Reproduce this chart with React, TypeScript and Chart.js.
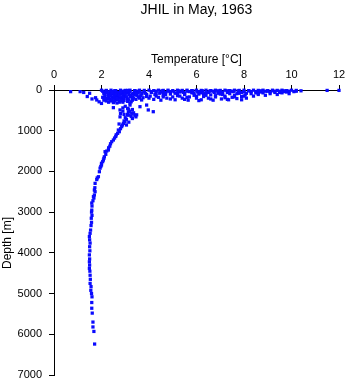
import { useEffect, useRef } from "react";
import { Chart, registerables } from "chart.js";

Chart.register(...registerables);

const titleText = "JHIL in May, 1963";
const xAxisLabel = "Temperature [°C]";
const yAxisLabel = "Depth [m]";
const xTickValues = [0, 2, 4, 6, 8, 10, 12];
const yTickValues = [0, 1000, 2000, 3000, 4000, 5000, 6000, 7000];

// [temperature °C, depth m]
const surfaceRow: [number, number][] = [
  [0.7, 40], [1.1, 40], [1.25, 60], [1.5, 80], [2.0, 5], [2.2, 10], [2.4, 5], [2.6, 15], [2.8, 5],
  [3.0, 10], [3.2, 5], [3.4, 15], [3.6, 5], [3.8, 10], [4.0, 5], [4.2, 15], [4.4, 5], [4.6, 10],
  [4.8, 5], [5.0, 15], [5.2, 5], [5.4, 10], [5.6, 5], [5.8, 15], [6.0, 5], [6.2, 10], [6.4, 5],
  [6.6, 15], [6.8, 5], [7.0, 10], [7.2, 5], [7.4, 15], [7.6, 5], [7.8, 10], [8.0, 5], [8.2, 15],
  [8.4, 5], [8.6, 10], [8.8, 5], [9.0, 15], [9.2, 5], [9.4, 10], [9.6, 5], [9.8, 15], [10.0, 5],
  [10.2, 10], [10.4, 20], [11.5, 10], [12.0, 10],
];

const upperBand: [number, number][] = [
  [2.1, 50], [2.3, 80], [2.5, 40], [2.7, 110], [2.9, 70], [3.1, 50], [3.3, 100], [3.5, 30],
  [3.7, 70], [3.9, 110], [4.1, 40], [4.3, 90], [4.5, 50], [4.7, 110], [4.9, 40], [5.1, 80],
  [5.3, 50], [5.5, 90], [5.7, 40], [5.9, 80], [6.1, 40], [6.3, 90], [6.5, 60], [6.7, 30],
  [6.9, 80], [7.1, 110], [7.3, 60], [7.5, 30], [7.7, 90], [7.9, 60], [8.1, 80], [8.3, 40],
  [8.5, 70], [8.7, 50], [8.9, 30], [9.1, 50], [9.3, 30], [9.5, 60], [9.7, 40], [9.9, 30],
  [10.2, 30], [4.6, 170], [5.2, 140], [5.6, 180], [6.0, 150], [6.4, 130], [6.8, 140], [7.2, 190],
  [7.6, 170], [8.0, 150], [4.9, 220], [5.5, 230], [6.1, 260], [6.6, 220], [7.3, 230], [7.9, 240],
  [4.3, 150], [4.0, 200], [4.6, 60], [5.4, 30], [6.2, 70], [7.0, 40], [7.8, 50], [8.6, 80],
];

const coldMixed: [number, number][] = [
  [1.4, 160], [1.6, 220], [1.75, 190], [1.8, 245], [1.9, 290], [2.0, 330], [2.05, 30], [2.1, 90],
  [2.15, 160], [2.2, 60], [2.25, 210], [2.3, 120], [2.35, 40], [2.4, 270], [2.45, 180], [2.5, 90],
  [2.55, 20], [2.6, 240], [2.65, 140], [2.7, 60], [2.75, 300], [2.8, 200], [2.85, 100], [2.9, 30],
  [2.95, 260], [3.0, 150], [3.05, 70], [3.1, 220], [3.15, 110], [3.2, 40], [3.25, 290], [3.3, 180],
  [3.35, 80], [3.4, 20], [3.45, 230], [3.5, 130], [3.55, 60], [3.6, 200], [3.7, 100], [3.8, 40],
  [3.9, 160], [2.1, 250], [2.3, 300], [2.2, 20], [2.4, 110], [2.6, 50], [2.7, 170], [2.8, 270],
  [2.9, 120], [3.0, 20], [2.5, 200], [2.35, 230], [2.65, 320], [2.45, 60], [2.55, 150], [2.75, 80],
  [2.85, 190], [2.95, 50], [3.1, 10], [3.2, 160], [3.3, 250], [2.15, 120], [2.25, 70], [2.6, 100],
  [2.8, 40], [3.0, 90], [3.4, 120], [3.6, 30], [2.4, 150], [2.7, 230], [2.9, 180], [3.1, 280],
  [2.05, 180], [2.2, 270], [2.3, 180], [2.45, 250], [2.5, 310], [2.6, 190], [2.75, 130], [2.85, 250],
  [2.95, 200], [3.05, 170], [3.15, 240], [3.25, 130], [3.35, 200], [3.45, 90], [3.55, 170], [3.65, 140],
  [3.75, 190], [3.85, 80], [2.55, 270], [2.65, 210], [2.35, 140], [2.12, 210], [2.9, 300], [3.2, 320],
];

const warmMixed: [number, number][] = [
  [4.05, 150], [4.1, 60], [4.2, 230], [4.25, 110], [4.3, 30], [4.4, 180], [4.45, 80], [4.5, 250],
  [4.55, 20], [4.6, 130], [4.7, 60], [4.75, 200], [4.8, 30], [4.9, 100], [5.0, 170], [5.05, 40],
  [5.1, 240], [5.2, 80], [5.25, 20], [5.3, 150], [5.4, 200], [5.45, 60], [5.5, 110], [5.6, 30],
  [5.65, 250], [5.7, 170], [5.8, 70], [5.85, 20], [5.9, 130], [6.0, 200], [6.05, 50], [6.1, 100],
  [6.2, 240], [6.25, 20], [6.3, 160], [6.4, 70], [6.5, 200], [6.55, 30], [6.6, 120], [6.7, 250],
  [6.75, 60], [6.8, 170], [6.9, 20], [7.0, 100], [7.05, 220], [7.1, 50], [7.2, 150], [7.3, 20],
  [7.35, 240], [7.4, 90], [7.5, 180], [7.55, 40], [7.6, 130], [7.7, 210], [7.75, 20], [7.8, 80],
  [7.9, 160], [8.0, 40], [8.05, 120], [8.1, 200], [8.2, 20], [8.3, 90], [8.4, 150], [8.5, 40],
  [8.6, 110], [8.7, 20], [8.8, 70], [8.9, 130], [9.0, 30], [9.1, 90], [9.2, 20], [9.3, 60],
  [9.4, 110], [9.5, 30], [9.6, 70], [9.7, 20], [9.8, 50], [9.9, 90], [10.1, 40],
];

const thermocline: [number, number][] = [
  [2.5, 434], [2.74, 835], [3.2, 370], [3.62, 410], [3.9, 370], [3.97, 490], [4.18, 533], [3.69, 245],
  [3.0, 400], [3.1, 450], [3.3, 480], [2.9, 520], [3.27, 573], [3.1, 600], [3.4, 620], [3.0, 680],
  [3.3, 700], [2.95, 760], [3.15, 790], [2.92, 820], [3.05, 860], [2.85, 900], [2.8, 950],
  [2.78, 490], [2.8, 580], [2.78, 660], [3.13, 470], [3.13, 540], [3.13, 620], [3.48, 610],
  [2.99, 780], [2.71, 983], [2.75, 1024], [2.68, 1065], [2.5, 1228], [2.43, 1270], [2.38, 1320],
  [2.29, 1474], [2.22, 1500], [2.15, 1515], [2.08, 1720], [2.05, 1760], [2.0, 1800], [2.0, 1843],
  [1.94, 1920], [1.91, 2007], [2.9, 440], [3.2, 520], [3.35, 560], [2.95, 600], [3.25, 650],
  [3.05, 720], [2.88, 860], [3.45, 660], [2.6, 1140], [2.55, 1180], [2.62, 1100], [2.35, 1380],
  [2.3, 1420], [2.18, 1580], [2.12, 1640], [2.1, 1680], [1.97, 1880],
];

const deepProfile: [number, number][] = [
  [1.87, 2130], [1.82, 2160], [1.8, 2200], [1.73, 2293], [1.72, 2400], [1.7, 2457], [1.73, 2498],
  [1.7, 2580], [1.66, 2620], [1.68, 2653], [1.64, 2720], [1.59, 2776], [1.6, 2850], [1.59, 2950],
  [1.58, 3000], [1.6, 3080], [1.57, 3150], [1.58, 3250], [1.56, 3330], [1.54, 3440], [1.52, 3520],
  [1.49, 3600], [1.5, 3680], [1.52, 3760], [1.5, 3850], [1.51, 3950], [1.49, 4050], [1.5, 4150],
  [1.49, 4220], [1.5, 4300], [1.49, 4380], [1.51, 4450], [1.52, 4550], [1.53, 4650], [1.52, 4750],
  [1.56, 4830], [1.55, 4920], [1.58, 5000], [1.6, 5080], [1.59, 5220], [1.59, 5360], [1.61, 5480],
  [1.64, 5700], [1.64, 5820], [1.68, 5930], [1.71, 6240],
];

const FONT = "'Liberation Sans', Arial, Helvetica, sans-serif";

export default function App() {
  const canvasRef = useRef<HTMLCanvasElement | null>(null);

  useEffect(() => {
    if (!canvasRef.current) return;
    const all = [...surfaceRow, ...upperBand, ...coldMixed, ...warmMixed, ...thermocline, ...deepProfile];
    const labelPlugin = {
      id: "labels",
      afterDraw(chart: any) {
        const { ctx, chartArea } = chart;
        ctx.save();
        ctx.fillStyle = "#000";
        ctx.font = `14px ${FONT}`;
        ctx.textAlign = "center";
        ctx.textBaseline = "middle";
        ctx.fillText(titleText, (chartArea.left + chartArea.right) / 2, 10);
        ctx.font = `12px ${FONT}`;
        ctx.translate(8, 243);
        ctx.rotate(-Math.PI / 2);
        ctx.fillText(yAxisLabel, 0, 0);
        ctx.restore();
      },
    };
    const chart = new Chart(canvasRef.current, {
      type: "scatter",
      data: {
        datasets: [
          {
            data: all.map(([t, d]) => ({ x: t, y: d })),
            backgroundColor: "rgb(10,10,255)",
            borderWidth: 0,
            pointStyle: "rect",
            pointRadius: 2.3,
            pointHoverRadius: 2.3,
            clip: false,
          } as any,
        ],
      },
      options: {
        responsive: false,
        animation: false,
        layout: { padding: { left: 0, top: 0, right: 9, bottom: 9 } },
        plugins: { legend: { display: false }, tooltip: { enabled: false }, title: { display: false } },
        scales: {
          x: {
            type: "linear",
            position: "top",
            min: 0,
            max: 12,
            afterBuildTicks: (s: any) => {
              s.ticks = xTickValues.map((v) => ({ value: v }));
            },
            afterFit: (s: any) => {
              s.height = 90;
              s.paddingLeft = 0;
              s.paddingRight = 0;
            },
            ticks: { color: "#000", font: { family: FONT, size: 11 }, padding: 3, maxRotation: 0 },
            grid: { drawOnChartArea: false, drawTicks: true, tickLength: 5, color: "#000" },
            border: { display: true, color: "#000", width: 1 },
            title: {
              display: true,
              text: xAxisLabel,
              color: "#000",
              font: { family: FONT, size: 12 },
              padding: { top: 52, bottom: 0 },
            },
          },
          y: {
            type: "linear",
            reverse: true,
            min: 0,
            max: 7000,
            afterBuildTicks: (s: any) => {
              s.ticks = yTickValues.map((v) => ({ value: v }));
            },
            afterFit: (s: any) => {
              s.width = 54;
              s.paddingTop = 0;
              s.paddingBottom = 0;
            },
            ticks: {
              color: "#000",
              font: { family: FONT, size: 11 },
              padding: 7,
              callback: (v: any) => String(v),
            },
            grid: { drawOnChartArea: false, drawTicks: true, tickLength: 5, color: "#000" },
            border: { display: true, color: "#000", width: 1 },
          },
        },
      },
      plugins: [labelPlugin],
    });
    return () => chart.destroy();
  }, []);

  return (
    <div style={{ position: "absolute", left: 0, top: 0, width: 348, height: 384, background: "#fff" }}>
      <canvas ref={canvasRef} width={348} height={384} />
    </div>
  );
}
